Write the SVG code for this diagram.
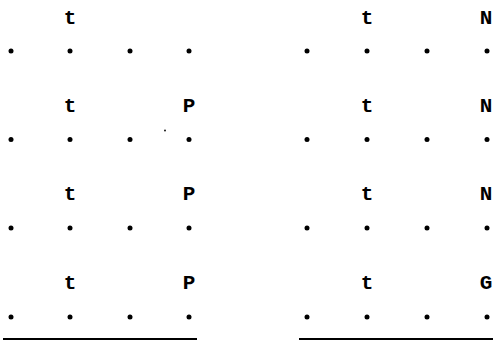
<svg xmlns="http://www.w3.org/2000/svg" width="493" height="341" viewBox="0 0 493 341">
<style>
.lbl{font-family:"Liberation Mono","Courier New",monospace;font-size:21px;font-weight:bold;fill:#000;text-anchor:middle}
.d{fill:#000}
.ln{stroke:#000;stroke-width:2.2;fill:none}
</style>
<defs><circle id="dot" r="2.5" class="d"/></defs>
<g id="left">
<g id="L1"><text class="lbl" x="70" y="24">t</text>
<use href="#dot" x="11" y="51"/><use href="#dot" x="70" y="51"/><use href="#dot" x="130" y="51"/><use href="#dot" x="189" y="51"/></g>
<g id="L2"><text class="lbl" x="70" y="112">t</text><text class="lbl" x="189" y="112">P</text>
<use href="#dot" x="11" y="139.5"/><use href="#dot" x="70" y="139.5"/><use href="#dot" x="130" y="139.5"/><use href="#dot" x="189" y="139.5"/></g>
<g id="L3"><text class="lbl" x="70" y="200">t</text><text class="lbl" x="189" y="200">P</text>
<use href="#dot" x="11" y="228"/><use href="#dot" x="70" y="228"/><use href="#dot" x="130" y="228"/><use href="#dot" x="189" y="228"/></g>
<g id="L4"><text class="lbl" x="70" y="289">t</text><text class="lbl" x="189" y="289">P</text>
<use href="#dot" x="11" y="317"/><use href="#dot" x="70" y="317"/><use href="#dot" x="130" y="317"/><use href="#dot" x="189" y="317"/></g>
<circle cx="165" cy="130.5" r="0.9" class="d"/>
</g>
<g id="right">
<g id="R1"><text class="lbl" x="486" y="24">N</text><text class="lbl" x="367" y="24">t</text>
<use href="#dot" x="307" y="51"/><use href="#dot" x="367" y="51"/><use href="#dot" x="427" y="51"/><use href="#dot" x="487" y="51"/></g>
<g id="R2"><text class="lbl" x="367" y="112">t</text><text class="lbl" x="486" y="112">N</text>
<use href="#dot" x="307" y="139.5"/><use href="#dot" x="367" y="139.5"/><use href="#dot" x="427" y="139.5"/><use href="#dot" x="487" y="139.5"/></g>
<g id="R3"><text class="lbl" x="367" y="200">t</text><text class="lbl" x="486" y="200">N</text>
<use href="#dot" x="307" y="228"/><use href="#dot" x="367" y="228"/><use href="#dot" x="427" y="228"/><use href="#dot" x="487" y="228"/></g>
<g id="R4"><text class="lbl" x="367" y="289">t</text><text class="lbl" x="486" y="289">G</text>
<use href="#dot" x="307" y="317"/><use href="#dot" x="367" y="317"/><use href="#dot" x="427" y="317"/><use href="#dot" x="487" y="317"/></g>
</g>
<g id="connectors">
<line class="ln" x1="3" y1="339" x2="197" y2="339"/>
<line class="ln" x1="299" y1="339" x2="493" y2="339"/>
</g>
</svg>
